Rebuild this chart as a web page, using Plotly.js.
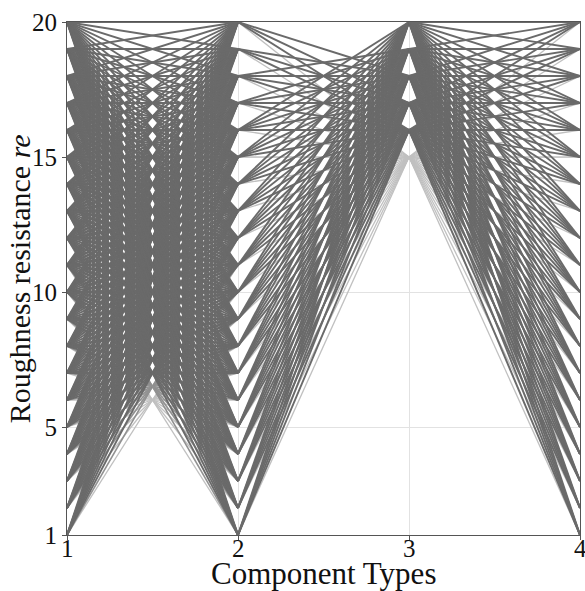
<!DOCTYPE html>
<html>
<head>
<meta charset="utf-8">
<script src="https://cdn.plot.ly/plotly-3.0.1.min.js"></script>
<style>html,body{margin:0;padding:0;background:#fff;}#chart{width:585px;height:591px;}</style>
</head>
<body>
<div id="chart"></div>
<script>
// Axis positions (component types)
const componentTypes = [1, 2, 3, 4];
// Roughness levels present on each component axis
const levels1 = [1,2,3,4,5,6,7,8,9,10,11,12,13,14,15,16,17,18,19,20];
const levels2 = [1,2,3,4,5,6,7,8,9,10,11,12,13,14,15,16,17,18,19,20];
const levels3 = [15,16,17,18,19,20];
const levels4 = [1,2,3,4,5,6,7,8,9,10,11,12,13,14,15,16,17,18,19,20];
// lowest level on axis 2 reached from each level of axis 1
const minLevel2ForLevel1 = [11,10,9,8,7,6,5,4,3,2,1,1,1,1,1,1,1,1,1,1];
// highest level on axis 2 reaching each level of axis 3
const maxLevel2ForLevel3 = [20,20,20,20,18,16];
// rarely used level on axis 3 (drawn faint)
const rareLevel3 = 15;
const yTicks = [1, 5, 10, 15, 20];

const groups = { light: {x: [], y: []}, mid: {x: [], y: []}, dark: {x: [], y: []} };
function addSeg(g, x0, y0, x1, y1) {
  groups[g].x.push(x0, x1, null);
  groups[g].y.push(y0, y1, null);
}
const baseSum = levels1[0] + minLevel2ForLevel1[0];
levels1.forEach((a, i) => {
  levels2.forEach(b => {
    if (b >= minLevel2ForLevel1[i]) {
      const d = a + b - baseSum;
      addSeg(d <= 0 ? 'light' : (d === 1 ? 'mid' : 'dark'), componentTypes[0], a, componentTypes[1], b);
    }
  });
});
levels3.forEach((c, j) => {
  levels2.forEach(b => {
    if (b <= maxLevel2ForLevel3[j]) {
      addSeg(c === rareLevel3 ? 'light' : 'dark', componentTypes[1], b, componentTypes[2], c);
    }
  });
});
levels3.forEach(c => {
  levels4.forEach(d => {
    addSeg(c === rareLevel3 ? 'light' : 'dark', componentTypes[2], c, componentTypes[3], d);
  });
});

const styles = {
  light: { color: 'rgb(192,192,192)', width: 1.3 },
  mid: { color: 'rgb(145,145,145)', width: 1.6 },
  dark: { color: 'rgb(106,106,106)', width: 1.9 }
};
const traces = ['light', 'mid', 'dark'].map(k => ({
  type: 'scatter', mode: 'lines', x: groups[k].x, y: groups[k].y,
  connectgaps: false, hoverinfo: 'skip', showlegend: false,
  line: styles[k]
}));

const font = 'Liberation Serif, DejaVu Serif, serif';
const axisCommon = {
  showgrid: true, gridcolor: '#e2e2e2', gridwidth: 1,
  showline: true, linecolor: '#555', linewidth: 1, mirror: true,
  ticks: 'outside', ticklen: 4, tickcolor: '#555', zeroline: false,
  tickfont: { family: font, size: 25, color: '#111' }
};
const xLabelAnnotations = componentTypes.map(v => ({
  text: String(v), xref: 'x', yref: 'paper', x: v, y: 0, yshift: 2,
  xanchor: 'center', yanchor: 'top', showarrow: false,
  font: { family: font, size: 25, color: '#111' }
}));
const layout = {
  width: 585, height: 591,
  margin: { l: 67, r: 5, t: 22, b: 56 },
  paper_bgcolor: '#fff', plot_bgcolor: '#fff',
  xaxis: Object.assign({}, axisCommon, { range: [1, 4], tickvals: componentTypes, showticklabels: false }),
  yaxis: Object.assign({}, axisCommon, { range: [1, 20], tickvals: yTicks, ticktext: yTicks.map(String) }),
  annotations: xLabelAnnotations.concat([
    { text: 'Component Types', xref: 'paper', yref: 'paper', x: 0.5, y: -0.114, xanchor: 'center', yanchor: 'bottom',
      showarrow: false, font: { family: font, size: 31, color: '#111' } },
    { text: 'Roughness resistance <i>re</i>', xref: 'paper', yref: 'paper', x: -0.092, y: 0.5, xanchor: 'center', yanchor: 'middle',
      textangle: -90, showarrow: false, font: { family: font, size: 30, color: '#111' } }
  ])
};
Plotly.newPlot('chart', traces, layout, { staticPlot: true, displayModeBar: false });
</script>
</body>
</html>
